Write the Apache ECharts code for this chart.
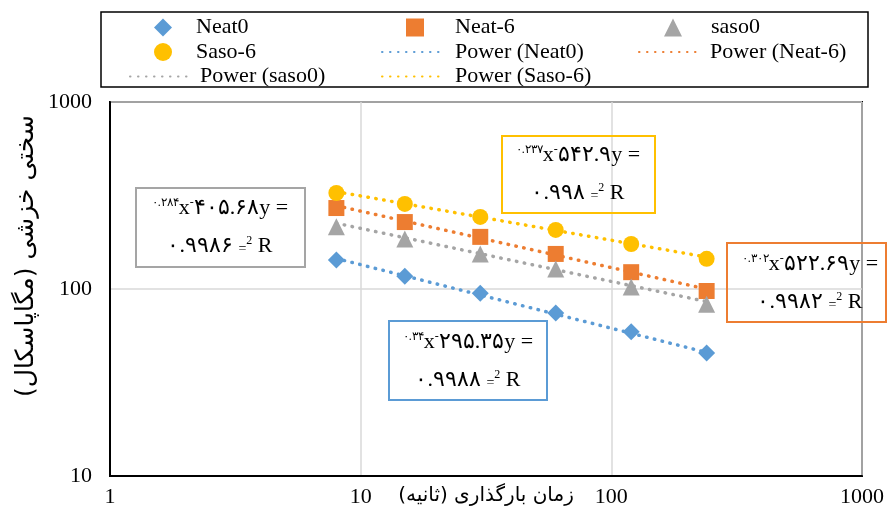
<!DOCTYPE html>
<html>
<head>
<meta charset="utf-8">
<script src="https://cdn.jsdelivr.net/npm/echarts@6/dist/echarts.min.js"></script>
<style>html,body{margin:0;padding:0;background:#fff}#c{width:888px;height:513px}</style>
</head>
<body>
<div id="c"></div>
<script>
// ---- data ----
const times = [8, 15, 30, 60, 120, 240];
const neat0 = [143, 117, 95, 74.5, 59, 45.5];
const neat6 = [271, 228, 190, 154, 123, 97.6];
const saso0 = [215, 185, 154, 128, 102.5, 83];
const saso6 = [326, 285, 243, 207, 174, 145];
// trendline end points (x from times range)
const trendX = [8, 240];
const trendNeat0 = [145.6, 45.8];
const trendNeat6 = [279, 99.9];
const trendSaso0 = [224.7, 85.6];
const trendSaso6 = [331.6, 148.1];
const xTicks = [1, 10, 100, 1000];
const yTicks = [10, 100, 1000];
const xName = 'زمان بارگذاری (ثانیه)\u200F';
const yName = 'سختی خزشی (مگاپاسکال)\u200F';

const pairs = (xs, ys) => xs.map((x, i) => [x, ys[i]]);
const C = { blue: '#5B9BD5', orange: '#ED7D31', gray: '#A5A5A5', yellow: '#FFC000' };
const FONT = '"Liberation Serif", "Times New Roman", serif';

function scatter(name, data, symbol, size, color) {
  return { name, type: 'scatter', data: pairs(times, data), symbol, symbolSize: size,
    itemStyle: { color, opacity: 1 }, z: 5 };
}
function trend(name, data, color) {
  return { name, type: 'line', data: pairs(trendX, data), symbol: 'none', z: 3,
    lineStyle: { color, width: 3.5, type: [0.5, 7.5], cap: 'round' },
    itemStyle: { color } };
}

const rich = {
  n: { fontFamily: FONT, fontSize: 22, color: '#000', lineHeight: 26 },
  sup: { fontFamily: FONT, fontSize: 12, color: '#000', verticalAlign: 'top', lineHeight: 26, padding: [2, 0, 0, 0] },
  sm: { fontFamily: FONT, fontSize: 14, color: '#555', lineHeight: 26, padding: [6, 0, 0, 0] }
};
function eqText(x, y, a, b, r2) {
  return [
    { type: 'text', x: x, y: y - 19, style: { text: '{sup|' + b + '}{n|x}{sup|-}{n|' + a + 'y =}', rich, align: 'center', verticalAlign: 'middle' }, z: 10 },
    { type: 'text', x: x, y: y + 19, style: { text: '{n|' + r2 + ' }{sm|=}{sup|2}{n| R}', rich, align: 'center', verticalAlign: 'middle' }, z: 10 }
  ];
}
function box(l, t, r, b, color) {
  return { type: 'rect', shape: { x: l, y: t, width: r - l, height: b - t }, style: { fill: 'none', stroke: color, lineWidth: 2 }, z: 10 };
}

const ROW = 24.5, TOP = 10.5;
function leg(left, row, names, itemWidth, itemHeight, pad, isLine) {
  const l = { orient: 'vertical', left: left, top: TOP + row * ROW, itemWidth: itemWidth, itemHeight: itemHeight, itemGap: ROW - 24,
    selectedMode: false, data: names,
    textStyle: { fontFamily: FONT, fontSize: 22, color: '#000', lineHeight: 24, padding: [0, 0, 0, pad] } };
  if (isLine) l.itemStyle = { color: 'rgba(0,0,0,0)', borderColor: 'rgba(0,0,0,0)', borderWidth: 0 };
  return l;
}

const option = {
  animation: false,
  backgroundColor: '#fff',
  grid: { left: 110, right: 26, top: 102, bottom: 37, outerBoundsMode: 'none', containLabel: false,
    show: true, borderColor: '#000', borderWidth: 2, backgroundColor: 'transparent' },
  legend: [
    leg(149, 0, ['Neat0', 'Saso-6'], 18, 18, 19, false),
    leg(124, 2, ['Power (saso0)'], 64, 14, 1, true),
    leg(401, 0, ['Neat-6'], 18, 18, 26, false),
    leg(376, 1, ['Power (Neat0)', 'Power (Saso-6)'], 64, 14, 4, true),
    leg(659, 0, ['saso0'], 18, 18, 24, false),
    leg(633, 1, ['Power (Neat-6)'], 64, 14, 2, true)
  ],
  xAxis: {
    type: 'log', logBase: 10, min: xTicks[0], max: xTicks[xTicks.length - 1],
    name: xName, nameLocation: 'middle', nameGap: 10, nameMoveOverlap: false,
    nameTextStyle: { fontFamily: 'DejaVu Sans', fontSize: 20, color: '#000' },
    axisLine: { show: true, lineStyle: { color: '#000', width: 2 } },
    axisTick: { show: false },
    axisLabel: { fontFamily: FONT, fontSize: 22, color: '#000', margin: 10, showMinLabel: true, showMaxLabel: true,
      formatter: v => String(v) },
    splitLine: { show: true, lineStyle: { color: '#D9D9D9', width: 1.5 } }
  },
  yAxis: {
    type: 'log', logBase: 10, min: yTicks[0], max: yTicks[yTicks.length - 1],
    name: yName, nameLocation: 'middle', nameGap: 71, nameRotate: 90, nameMoveOverlap: false,
    nameTextStyle: { fontFamily: 'DejaVu Sans', fontSize: 25, color: '#000', padding: [0, 0, 0, 66] },
    axisLine: { show: true, lineStyle: { color: '#000', width: 2 } },
    axisTick: { show: false },
    axisLabel: { fontFamily: FONT, fontSize: 22, color: '#000', margin: 18, formatter: v => String(v) },
    splitLine: { show: true, lineStyle: { color: '#D9D9D9', width: 1.5 } }
  },
  series: [
    trend('Power (Neat0)', trendNeat0, C.blue),
    trend('Power (Neat-6)', trendNeat6, C.orange),
    trend('Power (saso0)', trendSaso0, C.gray),
    trend('Power (Saso-6)', trendSaso6, C.yellow),
    scatter('Neat0', neat0, 'diamond', 17, C.blue),
    scatter('Neat-6', neat6, 'rect', 16, C.orange),
    scatter('saso0', saso0, 'triangle', 17, C.gray),
    scatter('Saso-6', saso6, 'circle', 16, C.yellow)
  ],
  graphic: [
    { type: 'rect', shape: { x: 101, y: 12, width: 767, height: 75 }, style: { fill: 'none', stroke: '#000', lineWidth: 1.5 } },
    box(502, 136, 655, 213, C.yellow),
    ...eqText(578, 174, '۵۴۲.۹', '۰.۲۳۷', '۰.۹۹۸'),
    box(136, 188, 305, 267, C.gray),
    ...eqText(220, 227, '۴۰۵.۶۸', '۰.۲۸۴', '۰.۹۹۸۶'),
    box(727, 243, 886, 322, C.orange),
    ...eqText(810, 283, '۵۲۲.۶۹', '۰.۳۰۲', '۰.۹۹۸۲'),
    box(389, 321, 547, 400, C.blue),
    ...eqText(468, 361, '۲۹۵.۳۵', '۰.۳۴', '۰.۹۹۸۸')
  ]
};
const chart = echarts.init(document.getElementById('c'), null, { renderer: 'canvas' });
chart.setOption(option);
</script>
</body>
</html>
